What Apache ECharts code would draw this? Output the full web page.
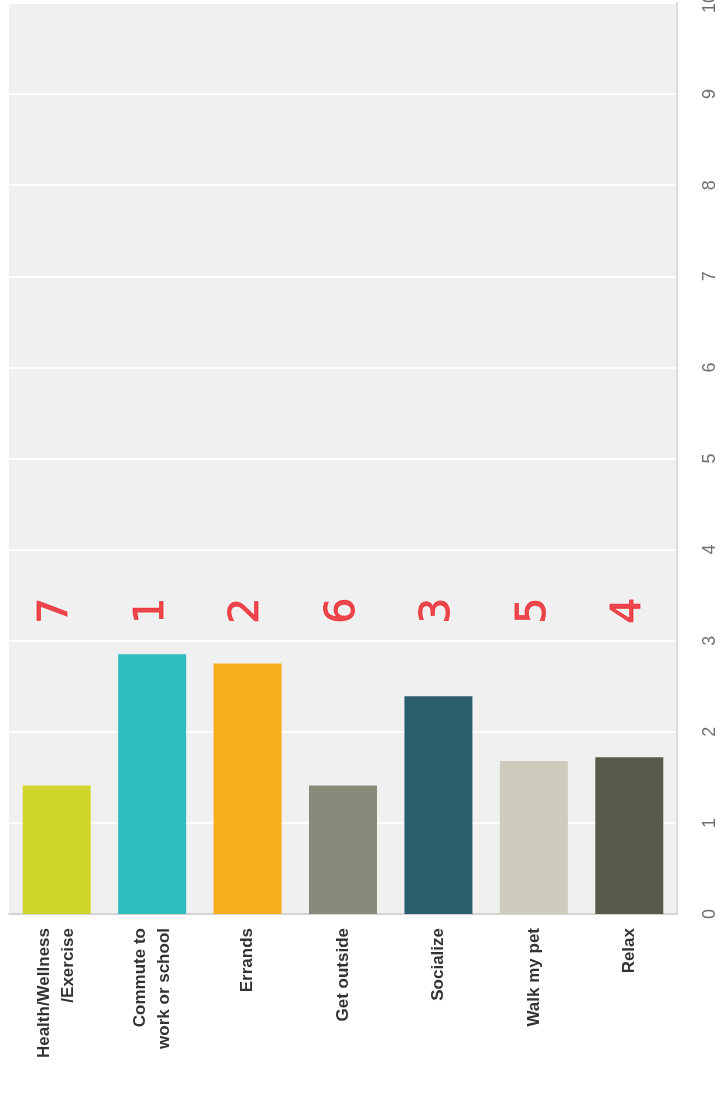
<!DOCTYPE html>
<html>
<head>
<meta charset="utf-8">
<title>Reasons for riding</title>
<script src="https://cdn.jsdelivr.net/npm/echarts@6/dist/echarts.min.js"></script>
<style>
  html, body { margin: 0; padding: 0; background: #ffffff; }
  #chart { width: 720px; height: 1101px; }
</style>
</head>
<body>
<div id="chart"></div>
<script>
// Categories along the bottom axis
const categories = [
  'Health/Wellness\n/Exercise',
  'Commute to\nwork or school',
  'Errands',
  'Get outside',
  'Socialize',
  'Walk my pet',
  'Relax'
];
// Average score per category
const scores = [1.41, 2.85, 2.75, 1.41, 2.39, 1.68, 1.72];
// Rank annotations shown above each bar
const ranks = ['7', '1', '2', '6', '3', '5', '4'];
const rankLevel = 3.33;
// Bar colours per category
const barColors = ['#cfd52b', '#2cbdbe', '#f5ae1d', '#898a79', '#2a5e6d', '#cecbbd', '#5a5a4a'];
// Value axis ticks
const valueMin = 0, valueMax = 10, valueStep = 1;

const chart = echarts.init(document.getElementById('chart'), null, { renderer: 'canvas' });

chart.setOption({
  animation: false,
  backgroundColor: '#ffffff',
  grid: {
    left: 9, right: 43, top: 3, bottom: 187,
    containLabel: false,
    outerBoundsMode: 'none',
    show: true,
    backgroundColor: '#eff0ef',
    borderWidth: 0
  },
  xAxis: {
    type: 'category',
    data: categories,
    axisLine: { show: true, lineStyle: { color: '#d3d3d3', width: 2 } },
    axisTick: { show: false },
    splitLine: { show: false },
    axisLabel: {
      rotate: 90,
      interval: 0,
      margin: 14,
      color: '#333333',
      fontFamily: 'Liberation Sans',
      fontWeight: 'bold',
      fontSize: 17,
      lineHeight: 24
    }
  },
  yAxis: {
    type: 'value',
    position: 'right',
    min: valueMin, max: valueMax, interval: valueStep,
    axisLine: { show: true, lineStyle: { color: '#dcdcdc', width: 2 } },
    axisTick: { show: false },
    splitLine: { show: true, lineStyle: { color: '#ffffff', width: 2 } },
    axisLabel: {
      rotate: 90,
      margin: 24,
      color: '#707070',
      fontFamily: 'Liberation Sans',
      fontSize: 18
    }
  },
  series: [
    {
      type: 'bar',
      barWidth: 68,
      data: scores.map((v, i) => ({ value: v, itemStyle: { color: barColors[i] } })),
      silent: true
    },
    {
      type: 'scatter',
      symbolSize: 0,
      data: ranks.map(() => rankLevel),
      silent: true,
      label: {
        show: true,
        position: 'inside',
        rotate: 90,
        formatter: p => ranks[p.dataIndex],
        color: '#ec1b23',
        textBorderColor: '#ec1b23',
        textBorderWidth: 0.8,
        fontFamily: 'DejaVu Sans',
        fontSize: 41
      }
    }
  ]
});
</script>
</body>
</html>
